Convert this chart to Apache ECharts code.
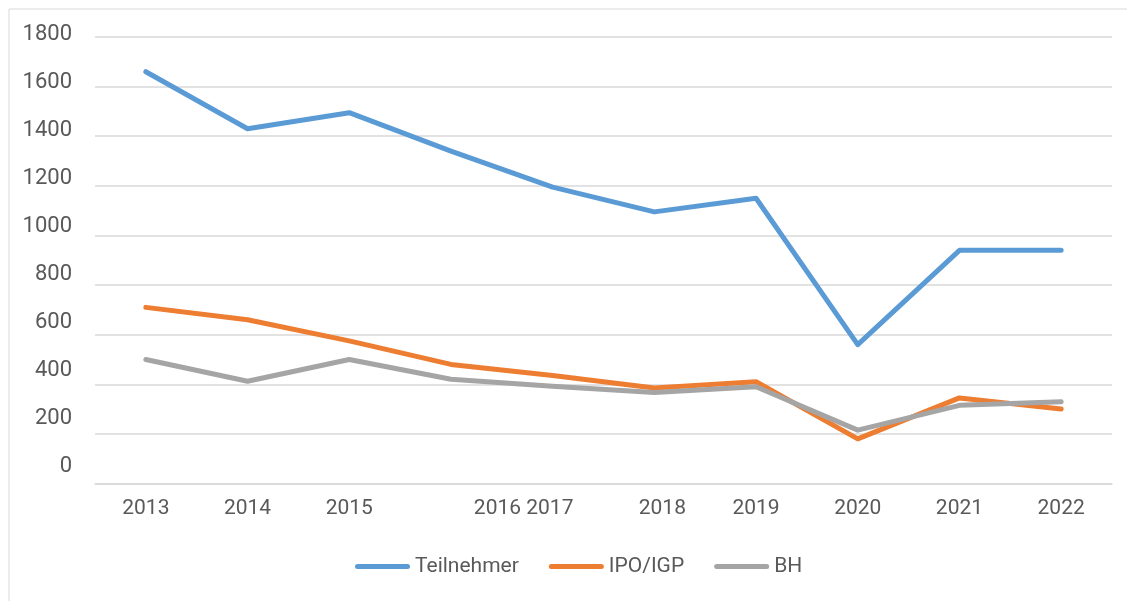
<!DOCTYPE html>
<html>
<head>
<meta charset="utf-8">
<script src="https://cdn.jsdelivr.net/npm/echarts@6/dist/echarts.min.js"></script>
<style>
  html, body { margin: 0; padding: 0; background: #ffffff; }
  #chart { width: 1127px; height: 601px; }
</style>
</head>
<body>
<div id="chart"></div>
<script>
// ---- data ----
var categories = ['2013', '2014', '2015', '', '2016 2017', '2018', '2019', '2020', '2021', '2022'];
var teilnehmer = [1660, 1430, 1495, 1340, 1195, 1095, 1150, 560, 940, 940];
var ipoIgp     = [710, 660, 575, 480, 435, 385, 410, 180, 345, 300];
var bh         = [500, 412, 500, 420, 392, 367, 390, 215, 315, 330];
var seriesNames = ['Teilnehmer', 'IPO/IGP', 'BH'];
var yMin = 0, yMax = 1800, yStep = 200;

// ---- style ----
var colors = ['#5B9BD5', '#ED7D31', '#A5A5A5'];
var FONT = 'Roboto, "Noto Sans", sans-serif';
var TEXT = '#595959';
var GRID = '#D9D9D9';
var LEGEND_ICON = 'path://M2.5,0 L52.5,0 A2.5,2.5 0 0 1 52.5,5 L2.5,5 A2.5,2.5 0 0 1 2.5,0 Z';

var chart = echarts.init(document.getElementById('chart'), null, { renderer: 'canvas' });

function lineSeries(name, data, color) {
  return {
    name: name,
    type: 'line',
    xAxisIndex: 0,
    yAxisIndex: 0,
    data: data,
    symbol: 'none',
    smooth: false,
    color: color,
    itemStyle: { color: color },
    lineStyle: { width: 5, color: color, cap: 'round', join: 'round' },
    emphasis: { disabled: true }
  };
}

var option = {
  animation: false,
  backgroundColor: '#ffffff',
  textStyle: { fontFamily: FONT },
  graphic: [{
    type: 'rect',
    left: 6.5, top: 6.5,
    shape: { x: 0, y: 0, width: 1200, height: 700 },
    style: { fill: 'none', stroke: GRID, lineWidth: 1 },
    silent: true, z: -10
  }],
  grid: [
    { left: 95, right: 15, top: 37, bottom: 117.5 },
    { left: 95, right: 15, top: 34.3, bottom: 134.3 }
  ],
  xAxis: [{
    gridIndex: 0,
    type: 'category',
    data: categories,
    boundaryGap: true,
    axisLine: { show: true, lineStyle: { color: GRID, width: 1.5 } },
    axisTick: { show: false },
    splitLine: { show: false },
    axisLabel: {
      interval: 0,
      margin: 15,
      fontSize: 21,
      color: TEXT,
      fontFamily: FONT,
      formatter: function (v) {
        if (v === '2016 2017') return '{l|' + v + '}';
        if (v === '2018') return '{r|' + v + '}';
        return v;
      },
      rich: {
        l: { fontSize: 21, color: TEXT, fontFamily: FONT, padding: [0, 58, 0, 0] },
        r: { fontSize: 21, color: TEXT, fontFamily: FONT, padding: [0, 0, 0, 16] }
      }
    }
  }, {
    gridIndex: 1,
    type: 'value',
    show: false
  }],
  yAxis: [{
    gridIndex: 0,
    type: 'value',
    min: yMin, max: yMax, interval: yStep,
    axisLine: { show: false },
    axisTick: { show: false },
    axisLabel: { show: false },
    splitLine: { show: true, lineStyle: { color: GRID, width: 1.5 } }
  }, {
    gridIndex: 1,
    type: 'value',
    min: yMin, max: yMax, interval: yStep,
    axisLine: { show: false },
    axisTick: { show: false },
    splitLine: { show: false },
    axisLabel: {
      show: true, margin: 23, fontSize: 22, color: TEXT, fontFamily: FONT,
      formatter: function (v) { return String(v); }
    }
  }],
  legend: {
    data: seriesNames.map(function (n) { return { name: n, icon: LEGEND_ICON }; }),
    left: 355,
    top: 556,
    padding: 0,
    itemWidth: 55,
    itemHeight: 5,
    itemGap: 30,
    textStyle: { fontSize: 21, color: TEXT, fontFamily: FONT },
    selectedMode: false
  },
  series: [
    lineSeries(seriesNames[0], teilnehmer, colors[0]),
    lineSeries(seriesNames[1], ipoIgp, colors[1]),
    lineSeries(seriesNames[2], bh, colors[2])
  ]
};

chart.setOption(option);
</script>
</body>
</html>
